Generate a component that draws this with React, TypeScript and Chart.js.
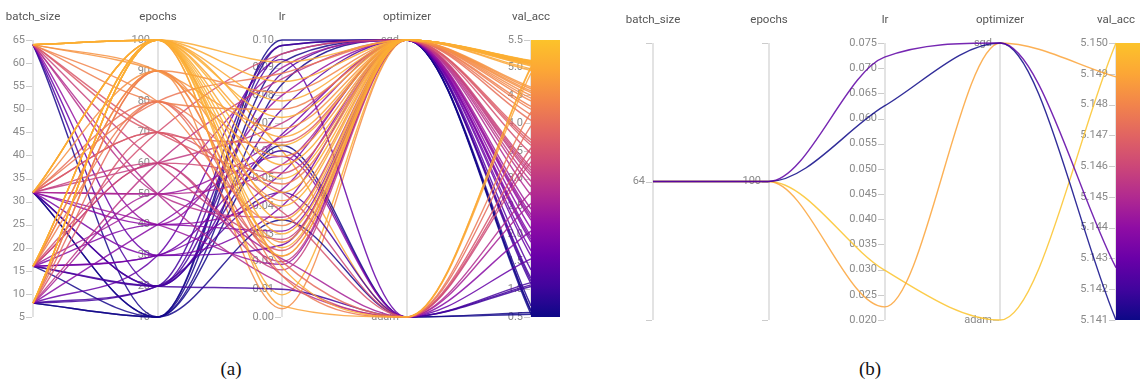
import React, { useEffect, useRef } from 'react';
import { Chart, registerables } from 'chart.js';

Chart.register(...registerables);

// ---------- shared ----------
const dimTitles = ['batch_size', 'epochs', 'lr', 'optimizer', 'val_acc'];
const optimizerCategories = ['adam', 'sgd'];

// ---------- panel (a): runs ----------
const batchA = [
  64, 64, 64, 32, 32, 16, 16, 8, 8, 16, 32, 64, 8, 16, 32, 8,
  64, 32, 16, 8, 64, 8,
  64, 32, 16, 8, 64,
  64, 32, 16, 8, 64,
  64, 32, 16, 8, 32,
  32, 64, 16, 8, 32, 64,
  32, 64, 16, 8, 32,
  16, 32, 8, 64, 16,
  8, 16, 32, 64, 8, 32, 16,
  8, 16, 32, 64, 8, 32,
  64, 16, 32, 8, 16, 32,
];
const epochsA = [
  100, 100, 100, 100, 100, 100, 100, 100, 100, 100, 100, 100, 100, 100, 100, 100,
  90, 90, 90, 90, 90, 90,
  80, 80, 80, 80, 80,
  70, 70, 70, 70, 70,
  60, 60, 60, 60, 60,
  50, 50, 50, 50, 50, 50,
  40, 40, 40, 40, 40,
  30, 30, 30, 30, 30,
  20, 20, 20, 20, 20, 20, 20,
  10, 10, 10, 10, 10, 10,
  100, 90, 80, 100, 60, 70,
];
const lrA = [
  0.045, 0.062, 0.030, 0.055, 0.072, 0.025, 0.085, 0.040, 0.018, 0.065, 0.004, 0.092, 0.050, 0.035, 0.078, 0.022,
  0.058, 0.027, 0.081, 0.015, 0.068, 0.042,
  0.033, 0.088, 0.048, 0.020, 0.075,
  0.052, 0.024, 0.095, 0.038, 0.063,
  0.028, 0.070, 0.045, 0.086, 0.017,
  0.055, 0.036, 0.090, 0.021, 0.065, 0.012,
  0.046, 0.080, 0.031, 0.058, 0.019,
  0.066, 0.040, 0.093, 0.026, 0.052,
  0.098, 0.088, 0.060, 0.095, 0.045, 0.075, 0.010,
  0.100, 0.092, 0.062, 0.084, 0.035, 0.098,
  0.008, 0.003, 0.022, 0.060, 0.020, 0.015,
];
const optA = [
  'sgd', 'sgd', 'sgd', 'sgd', 'sgd', 'sgd', 'sgd', 'sgd', 'adam', 'sgd', 'adam', 'sgd', 'sgd', 'sgd', 'sgd', 'sgd',
  'sgd', 'sgd', 'sgd', 'adam', 'sgd', 'sgd',
  'sgd', 'sgd', 'sgd', 'adam', 'sgd',
  'sgd', 'sgd', 'sgd', 'adam', 'sgd',
  'sgd', 'sgd', 'adam', 'sgd', 'sgd',
  'sgd', 'sgd', 'sgd', 'adam', 'sgd', 'adam',
  'sgd', 'sgd', 'sgd', 'adam', 'sgd',
  'sgd', 'sgd', 'adam', 'sgd', 'sgd',
  'sgd', 'sgd', 'adam', 'sgd', 'adam', 'sgd', 'adam',
  'sgd', 'sgd', 'adam', 'sgd', 'adam', 'sgd',
  'sgd', 'sgd', 'sgd', 'adam', 'sgd', 'adam',
];
const valA = [
  5.10, 5.12, 5.08, 5.05, 5.11, 5.09, 5.03, 5.10, 5.02, 4.95, 4.90, 5.06, 5.12, 5.07, 4.98, 5.13,
  4.62, 4.58, 4.45, 4.20, 4.65, 4.55,
  4.40, 4.15, 4.25, 3.95, 4.30,
  3.60, 3.70, 3.45, 3.55, 3.65,
  3.20, 3.05, 3.30, 2.95, 3.15,
  2.70, 2.85, 2.45, 2.55, 2.30, 2.75,
  2.10, 2.25, 1.95, 2.05, 2.35,
  1.70, 1.85, 1.55, 1.60, 1.90,
  1.10, 1.15, 1.05, 1.20, 1.12, 1.35, 1.08,
  0.55, 0.60, 0.55, 0.62, 0.58, 0.70,
  5.09, 4.50, 4.05, 5.00, 3.10, 3.40,
];

// ---------- panel (a): axis ticks ----------
const batchTicksA = [5, 10, 15, 20, 25, 30, 35, 40, 45, 50, 55, 60, 65];
const epochsTicksA = [10, 20, 30, 40, 50, 60, 70, 80, 90, 100];
const lrTicksA = [0, 0.01, 0.02, 0.03, 0.04, 0.05, 0.06, 0.07, 0.08, 0.09, 0.1];
const valTicksA = [0.5, 1, 1.5, 2, 2.5, 3, 3.5, 4, 4.5, 5, 5.5];

// ---------- panel (b): runs ----------
const batchB = [64, 64, 64, 64];
const epochsB = [100, 100, 100, 100];
const lrB = [0.0722, 0.0625, 0.0226, 0.0299];
const optB = ['sgd', 'sgd', 'sgd', 'adam'];
const valB = [5.1427, 5.141, 5.1489, 5.15];

// ---------- panel (b): axis ticks ----------
const batchTicksB = [64];
const epochsTicksB = [100];
const lrTicksB = [0.02, 0.025, 0.03, 0.035, 0.04, 0.045, 0.05, 0.055, 0.06, 0.065, 0.07, 0.075];
const valTicksB = [5.141, 5.142, 5.143, 5.144, 5.145, 5.146, 5.147, 5.148, 5.149, 5.15];

// plasma-like colour map (bottom -> top)
const PLASMA = ['#0d0887', '#41049d', '#6a00a8', '#8f0da4', '#b12a90', '#cc4778', '#e16462', '#f2844b', '#fca636', '#fcc32a'];

function hexToRgb(h: string) {
  const n = parseInt(h.slice(1), 16);
  return [(n >> 16) & 255, (n >> 8) & 255, n & 255];
}
function plasmaAt(t: number, alpha: number) {
  const tt = Math.max(0, Math.min(1, t)) * (PLASMA.length - 1);
  const i = Math.min(PLASMA.length - 2, Math.floor(tt));
  const f = tt - i;
  const a = hexToRgb(PLASMA[i]);
  const b = hexToRgb(PLASMA[i + 1]);
  const c = a.map((v, k) => Math.round(v + (b[k] - v) * f));
  return `rgba(${c[0]},${c[1]},${c[2]},${alpha})`;
}

type DimSpec = {
  title: string;
  min: number;
  max: number;
  ticks: number[];
  labels: string[];
  endMarks?: boolean;
};

type PanelSpec = {
  width: number;
  height: number;
  padding: { left: number; right: number; top: number; bottom: number };
  dims: DimSpec[];
  columns: number[][];
  barWidth: number;
};

function makeAxesPlugin(dims: DimSpec[], barWidth: number) {
  return {
    id: 'parcoordsAxes',
    beforeDatasetsDraw(chart: any) {
      const ctx = chart.ctx as CanvasRenderingContext2D;
      const xs = chart.scales.x;
      const area = chart.chartArea;
      ctx.save();
      dims.forEach((d, k) => {
        const sc = chart.scales['dim' + k];
        const px = Math.round(xs.getPixelForValue(k));
        const top = sc.getPixelForValue(d.max);
        const bot = sc.getPixelForValue(d.min);
        ctx.strokeStyle = '#e3e3e3';
        ctx.lineWidth = 2;
        ctx.beginPath();
        ctx.moveTo(px, top);
        ctx.lineTo(px, bot);
        ctx.stroke();
        ctx.strokeStyle = '#cccccc';
        ctx.lineWidth = 1;
        const marks = d.ticks.map((v) => sc.getPixelForValue(v));
        if (d.endMarks) marks.push(top, bot);
        marks.forEach((y: number) => {
          const yy = Math.round(y) + 0.5;
          ctx.beginPath();
          ctx.moveTo(px - 7, yy);
          ctx.lineTo(px - 1, yy);
          ctx.stroke();
        });
        ctx.font = '11px Roboto, "Noto Sans", sans-serif';
        ctx.fillStyle = '#8a8a8a';
        ctx.textAlign = 'right';
        ctx.textBaseline = 'middle';
        d.ticks.forEach((v, i) => ctx.fillText(d.labels[i], px - 8, sc.getPixelForValue(v)));
        ctx.font = '11.5px Roboto, "Noto Sans", sans-serif';
        ctx.fillStyle = '#555555';
        ctx.textAlign = 'center';
        ctx.fillText(d.title, px, area.top - 23);
      });
      const last = dims.length - 1;
      const bx = Math.round(xs.getPixelForValue(last));
      const sc = chart.scales['dim' + last];
      const top = sc.getPixelForValue(dims[last].max);
      const bot = sc.getPixelForValue(dims[last].min);
      const g = ctx.createLinearGradient(0, bot, 0, top);
      PLASMA.forEach((c, i) => g.addColorStop(i / (PLASMA.length - 1), c));
      ctx.fillStyle = g;
      ctx.fillRect(bx, top, barWidth, bot - top);
      ctx.restore();
    },
  };
}

function buildConfig(p: PanelSpec): any {
  const scales: any = {
    x: { type: 'linear', min: 0, max: p.dims.length - 1, display: false },
    y: { type: 'linear', min: 0, max: 1, display: false },
  };
  p.dims.forEach((d, k) => {
    scales['dim' + k] = { type: 'linear', axis: 'y', position: 'left', min: d.min, max: d.max, display: false };
  });
  const n = p.columns[0].length;
  const valDim = p.dims[p.dims.length - 1];
  const datasets = [];
  for (let r = 0; r < n; r++) {
    const pts = p.dims.map((d, k) => ({ x: k, y: (p.columns[k][r] - d.min) / (d.max - d.min) }));
    const t = (p.columns[p.dims.length - 1][r] - valDim.min) / (valDim.max - valDim.min);
    datasets.push({
      data: pts,
      borderColor: plasmaAt(t, 0.85),
      borderWidth: 1.4,
      pointRadius: 0,
      pointHoverRadius: 0,
      cubicInterpolationMode: 'monotone',
      fill: false,
      clip: false,
      xAxisID: 'x',
      yAxisID: 'y',
    });
  }
  return {
    type: 'line',
    data: { datasets },
    options: {
      animation: false,
      responsive: false,
      devicePixelRatio: 1,
      events: [],
      layout: { padding: p.padding },
      scales,
      plugins: { legend: { display: false }, tooltip: { enabled: false }, title: { display: false } },
    },
    plugins: [makeAxesPlugin(p.dims, p.barWidth)],
  };
}

const optIndex = (o: string) => optimizerCategories.indexOf(o);

const panelA: PanelSpec = {
  width: 580,
  height: 340,
  padding: { left: 33, right: 49, top: 40, bottom: 23 },
  barWidth: 29,
  dims: [
    { title: dimTitles[0], min: 5, max: 65, ticks: batchTicksA, labels: batchTicksA.map((v) => String(v)) },
    { title: dimTitles[1], min: 10, max: 100, ticks: epochsTicksA, labels: epochsTicksA.map((v) => String(v)) },
    { title: dimTitles[2], min: 0, max: 0.1, ticks: lrTicksA, labels: lrTicksA.map((v) => v.toFixed(2)) },
    { title: dimTitles[3], min: 0, max: 1, ticks: [0, 1], labels: optimizerCategories },
    { title: dimTitles[4], min: 0.5, max: 5.5, ticks: valTicksA, labels: valTicksA.map((v) => v.toFixed(1)) },
  ],
  columns: [batchA, epochsA, lrA, optA.map(optIndex), valA],
};

const panelB: PanelSpec = {
  width: 560,
  height: 340,
  padding: { left: 73, right: 24, top: 43, bottom: 20 },
  barWidth: 29,
  dims: [
    { title: dimTitles[0], min: 63, max: 65, ticks: batchTicksB, labels: batchTicksB.map((v) => String(v)), endMarks: true },
    { title: dimTitles[1], min: 99, max: 101, ticks: epochsTicksB, labels: epochsTicksB.map((v) => String(v)), endMarks: true },
    { title: dimTitles[2], min: 0.02, max: 0.075, ticks: lrTicksB, labels: lrTicksB.map((v) => v.toFixed(3)) },
    { title: dimTitles[3], min: 0, max: 1, ticks: [0, 1], labels: optimizerCategories },
    { title: dimTitles[4], min: 5.141, max: 5.15, ticks: valTicksB, labels: valTicksB.map((v) => v.toFixed(3)) },
  ],
  columns: [batchB, epochsB, lrB, optB.map(optIndex), valB],
};

function Panel({ spec, left }: { spec: PanelSpec; left: number }) {
  const ref = useRef<HTMLCanvasElement | null>(null);
  useEffect(() => {
    if (!ref.current) return;
    const chart = new Chart(ref.current, buildConfig(spec));
    return () => chart.destroy();
  }, [spec]);
  return (
    <canvas
      ref={ref}
      width={spec.width}
      height={spec.height}
      style={{ position: 'absolute', left, top: 0, width: spec.width, height: spec.height }}
    />
  );
}

const captionStyle: React.CSSProperties = {
  position: 'absolute',
  top: 356,
  width: 60,
  textAlign: 'center',
  fontFamily: '"Liberation Serif", "Times New Roman", serif',
  fontSize: 19,
  lineHeight: '26px',
  color: '#111',
};

export default function App() {
  return (
    <div
      style={{
        position: 'fixed',
        left: 0,
        top: 0,
        width: 1140,
        height: 381,
        overflow: 'hidden',
        background: '#ffffff',
      }}
    >
      <Panel spec={panelA} left={0} />
      <Panel spec={panelB} left={580} />
      <div style={{ ...captionStyle, left: 201 }}>(a)</div>
      <div style={{ ...captionStyle, left: 840 }}>(b)</div>
    </div>
  );
}
